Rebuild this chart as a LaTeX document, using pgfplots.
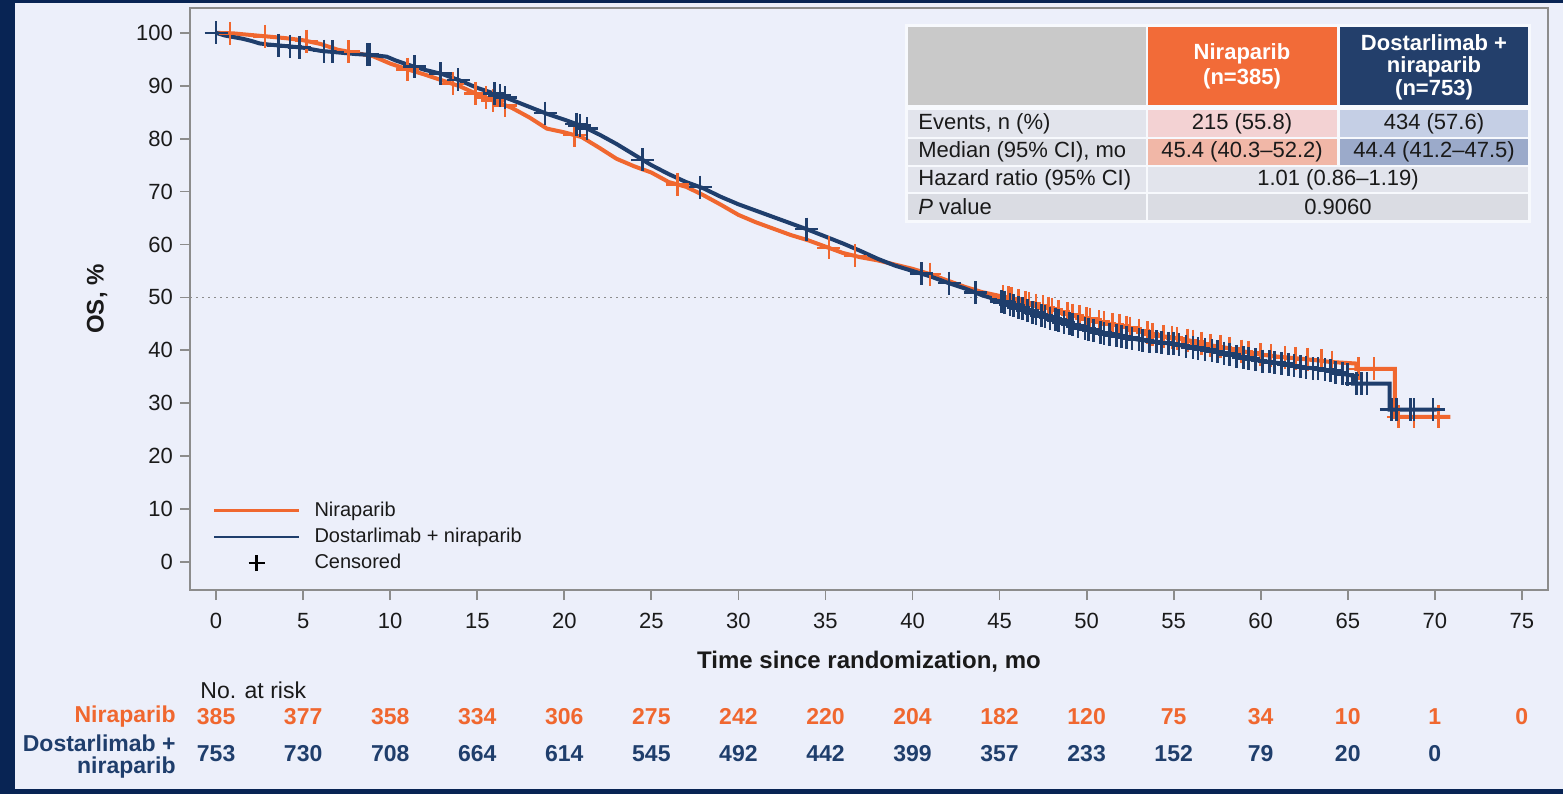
\documentclass[border=0pt]{standalone}
\usepackage{fontspec}
\setmainfont{Liberation Sans}
\usepackage{pgfplots}
\pgfplotsset{compat=1.18}
\definecolor{navyborder}{RGB}{8,36,84}
\definecolor{bgcol}{RGB}{236,239,250}
\definecolor{niraorange}{RGB}{240,103,47}
\definecolor{navyline}{RGB}{31,62,108}
\definecolor{axisgray}{RGB}{140,140,140}
\definecolor{textdark}{RGB}{26,26,26}
\definecolor{hdrgray}{RGB}{201,201,201}
\definecolor{hdrorange}{RGB}{242,107,56}
\definecolor{hdrnavy}{RGB}{35,63,107}
\definecolor{cellgray}{RGB}{226,228,236}
\definecolor{cellgraydk}{RGB}{218,220,227}
\definecolor{orlight}{RGB}{243,210,211}
\definecolor{ormid}{RGB}{241,183,167}
\definecolor{bllight}{RGB}{197,207,229}
\definecolor{blmid}{RGB}{155,170,202}

\begin{document}
\begin{tikzpicture}
% background, 1 px = 0.5 pt
\begin{scope}[x=0.5pt,y=-0.5pt,shift={(0,397pt)}]
\fill[navyborder] (0,0) rectangle (1563,794);
\fill[bgcol] (15,3) rectangle (1563,789);
\end{scope}

\begin{axis}[
    at={(95pt,102pt)}, anchor=south west,
    scale only axis, width=679pt, height=291pt,
    xmin=-1.5, xmax=76.5, ymin=-5.3, ymax=104.7,
    xtick={0,5,...,75}, ytick={0,10,...,100},
    xtick pos=lower, ytick pos=left,
    tick align=outside, major tick length=5pt,
    tick style={axisgray, line width=0.9pt},
    axis line style={axisgray, line width=0.9pt},
    tick label style={font=\fontsize{11}{13}\selectfont, text=textdark},
    xticklabel style={yshift=-3pt},
    /pgf/number format/assume math mode=true,
    xlabel={Time since randomization, mo},
    ylabel={OS, \%},
    xlabel style={at={(axis description cs:0.5,-0.1237)}, anchor=center,
        font=\bfseries\fontsize{12}{14}\selectfont, text=textdark},
    ylabel style={at={(axis description cs:-0.0685,0.5)}, anchor=center,
        font=\bfseries\fontsize{12}{14}\selectfont, text=textdark},
    clip=false,
    legend style={at={(axis cs:-0.2,12.2)}, anchor=north west, draw=none,
        fill=none, font=\fontsize{10}{12}\selectfont, text=textdark,
        row sep=0.4pt, inner sep=0pt},
    legend cell align=left,
]

% median reference line
\addplot[axisgray, line width=0.8pt, dash pattern=on 1pt off 2pt, forget plot]
    coordinates {(-1.5,50) (76.5,50)};

% --- Niraparib ---
\addplot[niraorange, line width=2pt, forget plot] table {
t S
0 100
1 99.9
2 99.6
3 99.3
4 99.0
5 98.6
6 97.9
7 96.8
8 96.2
9 95.6
10 94.2
11 93.1
12 92.1
13 91.0
14 89.9
15 88.4
16 87.1
17 85.8
18 84.0
19 81.9
20 81.2
21 80.3
22 78.3
23 76.2
24 74.8
25 73.6
26 71.8
27 70.9
28 69.3
29 67.5
30 65.6
31 64.2
32 63.0
33 61.8
34 60.8
35 59.6
36 58.4
37 57.6
38 57.0
39 56.2
40 55.4
41 54.4
42 53.2
43 52.0
44 51.0
45.4 50.0
46 49.5
47 48.6
48 47.8
49 46.8
50 46.0
51 45.2
52 44.6
53 43.8
54 42.8
55 42.4
56 41.8
57 41.0
58 40.5
59 39.8
60 39.2
61 38.8
62 38.5
63 38.2
64 37.8
65.5 37.5
65.5 36.5
67.7 36.5
67.7 27.4
70.9 27.4
};

\addplot[only marks, mark=+, mark size=5.75pt, niraorange,
    mark options={line width=1.3pt}, forget plot] table {
t S
0.8 99.92
2.8 99.36
5.2 98.46
7.6 96.44
11.0 93.1
13.6 90.34
14.9 88.55
15.5 87.75
15.9 87.23
16.6 86.32
20.6 80.66
26.5 71.35
35.2 59.36
36.7 57.84
41.0 54.4
45.2 50.14
45.5 49.92
45.7 49.75
46.1 49.41
46.5 49.05
46.7 48.87
47.1 48.52
47.5 48.2
47.8 47.96
48.0 47.8
48.4 47.4
48.9 46.9
49.2 46.64
49.6 46.32
50.0 46.0
50.2 45.84
50.7 45.44
51.0 45.2
51.5 44.9
51.9 44.66
52.3 44.36
52.5 44.2
53.0 43.8
53.5 43.3
53.8 43.0
54.4 42.64
54.9 42.44
55.2 42.28
55.8 41.92
56.1 41.72
56.6 41.32
57.1 40.95
57.7 40.65
58.2 40.36
58.9 39.87
59.3 39.62
60.0 39.2
60.6 38.96
61.4 38.68
62.0 38.5
62.7 38.29
63.5 38.0
64.1 37.78
65.6 36.5
66.5 36.5
67.9 27.4
68.8 27.4
70.2 27.4
};

% --- Dostarlimab + niraparib ---
\addplot[navyline, line width=2pt, forget plot] table {
t S
0 100
0.5 99.5
1 99.2
1.5 98.9
2 98.5
2.5 98.0
3 97.8
4 97.5
5 97.2
6 96.6
7 96.3
8 96.0
9 95.8
9.8 95.5
10.3 94.8
11 94.0
12 93.0
13 92.2
14 91.0
15 89.6
16 88.5
17 87.3
18 86.0
19 84.7
20 83.6
21 82.4
22 80.8
23 79.0
24 77.0
25 75.0
26 73.3
27 71.8
28 70.6
29 69.0
30 67.6
31 66.4
32 65.2
33 64.0
34 62.8
35 61.5
36 60.2
37 58.8
38 57.3
39 56.0
40 55.0
41 54.0
42 52.8
43 51.7
44 50.4
44.5 49.9
45 49.4
46 48.2
47 47.0
48 46.0
49 45.0
50 44.0
51 43.2
52 42.6
53 42.0
54 41.6
55 41.2
56 40.6
57 40.0
58 39.4
59 38.6
60 38.0
61 37.6
62 37.0
63 36.6
64 36.2
64.6 35.6
65.3 35.2
65.3 33.7
67.4 33.7
67.4 28.8
70.1 28.8
};

\addplot[only marks, mark=+, mark size=5.75pt, navyline,
    mark options={line width=1.3pt}, forget plot] table {
t S
0 100
3.6 97.62
4.25 97.43
4.8 97.26
6.2 96.54
6.7 96.39
8.7 95.86
8.85 95.83
11.4 93.6
12.9 92.28
13.9 91.12
16.0 88.5
16.3 88.14
16.6 87.78
18.9 84.83
20.7 82.76
20.9 82.52
21.3 81.92
24.5 76.0
27.8 70.84
33.9 62.92
40.5 54.5
42.1 52.69
43.6 50.92
45.1 49.28
45.3 49.04
45.6 48.68
45.8 48.44
46.1 48.08
46.3 47.84
46.6 47.48
46.9 47.12
47.1 46.9
47.4 46.6
47.6 46.4
47.9 46.1
48.2 45.8
48.4 45.6
48.7 45.3
49.0 45.0
49.2 44.8
49.5 44.5
49.9 44.1
50.1 43.92
50.4 43.68
50.8 43.36
51.0 43.2
51.3 43.02
51.7 42.78
52.0 42.6
52.3 42.42
52.6 42.24
53.0 42.0
53.2 41.92
53.6 41.76
54.0 41.6
54.3 41.48
54.7 41.32
55.0 41.2
55.3 41.02
55.7 40.78
56.1 40.54
56.4 40.36
56.8 40.12
57.2 39.88
57.5 39.7
57.9 39.46
58.2 39.24
58.6 38.92
59.0 38.6
59.3 38.42
59.7 38.18
60.1 37.96
60.5 37.8
60.8 37.68
61.2 37.48
61.6 37.24
61.9 37.06
62.3 36.88
62.6 36.76
63.0 36.6
63.3 36.48
63.7 36.32
64.0 36.2
64.3 35.9
64.7 35.54
65.0 35.37
65.5 33.7
65.8 33.7
66.1 33.7
67.5 28.8
67.8 28.8
68.6 28.8
68.8 28.8
69.9 28.8
};

% --- numbers at risk ---
\addplot[draw=none, mark=none, forget plot, nodes near coords,
    point meta=explicit symbolic,
    nodes near coords style={anchor=center, text=niraorange,
        font=\bfseries\fontsize{11.5}{13}\selectfont}]
    table[meta=n] {
t y n
0 -29.25 385
5 -29.25 377
10 -29.25 358
15 -29.25 334
20 -29.25 306
25 -29.25 275
30 -29.25 242
35 -29.25 220
40 -29.25 204
45 -29.25 182
50 -29.25 120
55 -29.25 75
60 -29.25 34
65 -29.25 10
70 -29.25 1
75 -29.25 0
};
\addplot[draw=none, mark=none, forget plot, nodes near coords,
    point meta=explicit symbolic,
    nodes near coords style={anchor=center, text=navyline,
        font=\bfseries\fontsize{11.5}{13}\selectfont}]
    table[meta=n] {
t y n
0 -36.2 753
5 -36.2 730
10 -36.2 708
15 -36.2 664
20 -36.2 614
25 -36.2 545
30 -36.2 492
35 -36.2 442
40 -36.2 399
45 -36.2 357
50 -36.2 233
55 -36.2 152
60 -36.2 79
65 -36.2 20
70 -36.2 0
};

% --- legend ---
\addlegendimage{legend image code/.code={
    \draw[niraorange, line width=1.1pt] (0pt,0pt) -- (42.5pt,0pt);
    \path (48pt,0pt);}}
\addlegendentry{Niraparib}
\addlegendimage{legend image code/.code={
    \draw[navyline, line width=1.1pt] (0pt,0pt) -- (42.5pt,0pt);
    \path (48pt,0pt);}}
\addlegendentry{Dostarlimab + niraparib}
\addlegendimage{legend image code/.code={
    \draw[black, line width=1.3pt] (21.25pt,-4pt) -- (21.25pt,4pt)
        (17.25pt,0pt) -- (25.25pt,0pt);
    \path (0pt,0pt) (48pt,0pt);}}
\addlegendentry{Censored}
\end{axis}

% table and at-risk labels
\begin{scope}[x=0.5pt,y=-0.5pt,shift={(0,397pt)},
    every node/.style={inner sep=0pt, font=\fontsize{11}{11}\selectfont, text=textdark}]
\fill[white!60!bgcol] (905,24) rectangle (1531,223);
\fill[hdrgray] (908,27) rectangle (1146,105);
\fill[hdrorange] (1148,27) rectangle (1337,105);
\fill[hdrnavy] (1340,27) rectangle (1528,105);
\fill[cellgray] (908,110) rectangle (1146,137);
\fill[orlight] (1148,110) rectangle (1337,137);
\fill[bllight] (1340,110) rectangle (1528,137);
\fill[cellgraydk] (908,139) rectangle (1146,165);
\fill[ormid] (1148,139) rectangle (1337,165);
\fill[blmid] (1340,139) rectangle (1528,165);
\fill[cellgray] (908,167) rectangle (1146,192);
\fill[cellgray] (1148,167) rectangle (1528,192);
\fill[cellgraydk] (908,194) rectangle (1146,220);
\fill[cellgraydk] (1148,194) rectangle (1528,220);

\node[text=white, font=\bfseries\fontsize{11}{12.5}\selectfont, align=center]
    at (1242,66) {Niraparib\\(n=385)};
\node[text=white, font=\bfseries\fontsize{11}{11.3}\selectfont, align=center]
    at (1434,67) {Dostarlimab +\\niraparib\\(n=753)};
\node[anchor=west] at (918,124) {Events, n (\%)};
\node[anchor=west] at (918,152) {Median (95\% CI), mo};
\node[anchor=west] at (918,180) {Hazard ratio (95\% CI)};
\node[anchor=west] at (918,207) {\textit{P} value};
\node at (1242,124) {215 (55.8)};
\node at (1434,124) {434 (57.6)};
\node at (1242,152) {45.4 (40.3–52.2)};
\node at (1434,152) {44.4 (41.2–47.5)};
\node at (1338,180) {1.01 (0.86–1.19)};
\node at (1338,207) {0.9060};

\node[anchor=west, font=\fontsize{11.5}{13}\selectfont] at (200,690) {No. at risk};
\node[anchor=east, text=niraorange, font=\bfseries\fontsize{11.5}{13}\selectfont]
    at (176,717) {Niraparib};
\node[anchor=east, text=navyline, font=\bfseries\fontsize{11.5}{13}\selectfont]
    at (176,743) {Dostarlimab +};
\node[anchor=east, text=navyline, font=\bfseries\fontsize{11.5}{13}\selectfont]
    at (176,768) {niraparib};
\end{scope}

\pgfresetboundingbox
\path (0,0) rectangle (781.5pt,397pt);
\end{tikzpicture}
\end{document}
